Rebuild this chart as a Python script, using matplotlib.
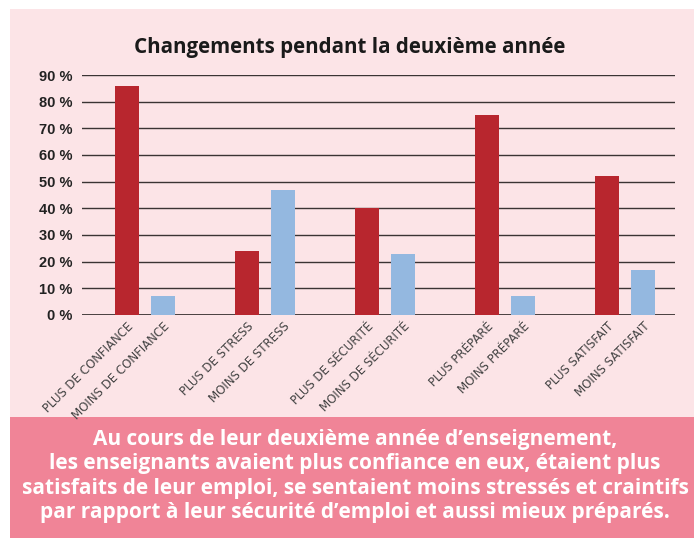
import numpy as np
import matplotlib
matplotlib.use('Agg')
import matplotlib.pyplot as plt
from matplotlib.patches import Rectangle

groups = ['CONFIANCE', 'STRESS', 'SÉCURITÉ', 'PRÉPARÉ', 'SATISFAIT']
plus_labels = ['PLUS DE CONFIANCE', 'PLUS DE STRESS', 'PLUS DE SÉCURITÉ', 'PLUS PRÉPARÉ', 'PLUS SATISFAIT']
moins_labels = ['MOINS DE CONFIANCE', 'MOINS DE STRESS', 'MOINS DE SÉCURITÉ', 'MOINS PRÉPARÉ', 'MOINS SATISFAIT']
plus_vals = [86, 24, 40, 75, 52]
moins_vals = [7, 47, 23, 7, 17]
yticks = [0, 10, 20, 30, 40, 50, 60, 70, 80, 90]

title = 'Changements pendant la deuxième année'
caption = ("Au cours de leur deuxième année d\u2019enseignement,\n"
           "les enseignants avaient plus confiance en eux, étaient plus\n"
           "satisfaits de leur emploi, se sentaient moins stressés et craintifs\n"
           "par rapport à leur sécurité d\u2019emploi et aussi mieux préparés.")

red = '#B8262E'
blue = '#94B8E0'
panel = '#FCE4E7'
band = '#F08497'

W, H = 694, 538
fig = plt.figure(figsize=(W / 100, H / 100), dpi=100)
fig.patch.set_facecolor('white')

# background panels (figure coords), kept behind the axes
fig.patches.append(Rectangle((10 / W, 0), 1 - 10 / W, 1 - 9 / H, transform=fig.transFigure,
                             facecolor=panel, edgecolor='none', zorder=-2))
fig.patches.append(Rectangle((10 / W, 0), 1 - 10 / W, (H - 417) / H, transform=fig.transFigure,
                             facecolor=band, edgecolor='none', zorder=-1))

# axes: x from 82 to 675 px, y from 75 (90%) to 315 (0%)
ax = fig.add_axes([82 / W, (H - 315) / H, (675 - 82) / W, (315 - 75) / H])
ax.set_facecolor('none')
ax.set_zorder(1)

x = np.arange(len(groups))
off = 0.15
bw = 0.2
ax.bar(x - off, plus_vals, width=bw, color=red, zorder=3)
ax.bar(x + off, moins_vals, width=bw, color=blue, zorder=3)

ax.set_xlim(-0.525, 4.417)
ax.set_ylim(0, 90)
ax.set_yticks(yticks)
ax.set_yticklabels([f'{v} %' for v in yticks], fontsize=10.5, fontweight='bold',
                   family='Liberation Sans', color='#222222')
for v in yticks:
    ax.axhline(v, color='#3a3434' if v else '#2a2424', lw=1.2 if v == 0 else 1.0, zorder=1)
for s in ax.spines.values():
    s.set_visible(False)
ax.tick_params(axis='y', length=0, pad=7)
ax.tick_params(axis='x', length=0)

pos = np.concatenate([x - off, x + off])
labs = plus_labels + moins_labels
ax.set_xticks(pos)
ax.set_xticklabels(labs, rotation=45, ha='right', rotation_mode='anchor',
                   fontsize=8.5, color='#444444', family=['Liberation Sans Narrow', 'DejaVu Sans'])

fig.text(350 / W, 1 - 47 / H, title, ha='center', va='center', fontsize=14.8,
         fontweight='bold', family=['Open Sans', 'DejaVu Sans'], color='#1a1a1a')

fig.text(355 / W, 1 - 476 / H, caption, ha='center', va='center', fontsize=15,
         fontweight='bold', family=['Open Sans', 'DejaVu Sans'], color='white',
         linespacing=1.2)

fig.savefig('out.png', dpi=100, facecolor=fig.get_facecolor())
